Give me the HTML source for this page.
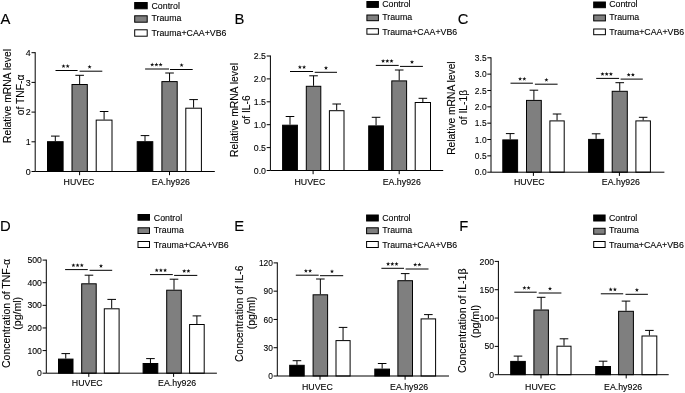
<!DOCTYPE html>
<html><head><meta charset="utf-8"><title>Figure</title>
<style>
html,body{margin:0;padding:0;background:#fff;}
body{width:685px;height:393px;position:relative;overflow:hidden;font-family:"Liberation Sans",sans-serif;}
svg text{font-family:"Liberation Sans",sans-serif;}
svg{filter:grayscale(1) blur(0.3px);}
svg text{stroke:#000;stroke-width:0.12px;}
</style></head><body>
<svg width="685" height="393" viewBox="0 0 685 393" style="position:absolute;left:0;top:0" font-family="Liberation Sans, sans-serif" fill="#000">
<g>
<text x="0.5" y="23.7" font-size="14.8">A</text>
<path d="M55.3 141.2V136.1M51 136.1H59.6" stroke="#000" stroke-width="1.0" fill="none"/>
<rect x="47.5" y="141.7" width="15.6" height="29.8" fill="#000" stroke="#000" stroke-width="1.0"/>
<path d="M79.65 84V75.3M75.35 75.3H83.95" stroke="#000" stroke-width="1.0" fill="none"/>
<rect x="72" y="84.5" width="15.3" height="87" fill="#7f7f7f" stroke="#000" stroke-width="1.0"/>
<path d="M104.1 119.6V111.5M99.8 111.5H108.4" stroke="#000" stroke-width="1.0" fill="none"/>
<rect x="96.2" y="120.1" width="15.8" height="51.4" fill="#fff" stroke="#000" stroke-width="1.0"/>
<path d="M79.6 171.5V175.2" stroke="#000" stroke-width="1.0"/>
<text transform="translate(79 185) scale(0.962 1)" font-size="9.15" text-anchor="middle">HUVEC</text>
<path d="M145 141.2V135.6M140.7 135.6H149.3" stroke="#000" stroke-width="1.0" fill="none"/>
<rect x="137.2" y="141.7" width="15.6" height="29.8" fill="#000" stroke="#000" stroke-width="1.0"/>
<path d="M169.55 81.1V73M165.25 73H173.85" stroke="#000" stroke-width="1.0" fill="none"/>
<rect x="161.9" y="81.6" width="15.3" height="89.9" fill="#7f7f7f" stroke="#000" stroke-width="1.0"/>
<path d="M193.6 107.7V99.6M189.3 99.6H197.9" stroke="#000" stroke-width="1.0" fill="none"/>
<rect x="185.8" y="108.2" width="15.6" height="63.3" fill="#fff" stroke="#000" stroke-width="1.0"/>
<path d="M169.5 171.5V175.2" stroke="#000" stroke-width="1.0"/>
<text transform="translate(170.85 185) scale(0.962 1)" font-size="9.15" text-anchor="middle">EA.hy926</text>
<path d="M35.2 52.2V171.5H214.8" stroke="#000" stroke-width="1.0" fill="none"/>
<path d="M31.5 171.5H35.2" stroke="#000" stroke-width="1.0"/>
<text transform="translate(30.8 174.6) scale(0.91 1)" font-size="9.8" text-anchor="end">0</text>
<path d="M31.5 141.8H35.2" stroke="#000" stroke-width="1.0"/>
<text transform="translate(30.8 144.9) scale(0.91 1)" font-size="9.8" text-anchor="end">1</text>
<path d="M31.5 112.1H35.2" stroke="#000" stroke-width="1.0"/>
<text transform="translate(30.8 115.2) scale(0.91 1)" font-size="9.8" text-anchor="end">2</text>
<path d="M31.5 82.4H35.2" stroke="#000" stroke-width="1.0"/>
<text transform="translate(30.8 85.5) scale(0.91 1)" font-size="9.8" text-anchor="end">3</text>
<path d="M31.5 52.7H35.2" stroke="#000" stroke-width="1.0"/>
<text transform="translate(30.8 55.8) scale(0.91 1)" font-size="9.8" text-anchor="end">4</text>
<path d="M55.5 70.5H77.6" stroke="#000" stroke-width="1.0"/>
<polygon points="63.5,64.05 64.03,65.47 65.54,65.54 64.36,66.48 64.76,67.94 63.5,67.1 62.24,67.94 62.64,66.48 61.46,65.54 62.97,65.47" fill="#111"/>
<polygon points="67.7,64.05 68.23,65.47 69.74,65.54 68.56,66.48 68.96,67.94 67.7,67.1 66.44,67.94 66.84,66.48 65.66,65.54 67.17,65.47" fill="#111"/>
<path d="M79.6 71.2H102.3" stroke="#000" stroke-width="1.0"/>
<polygon points="89.6,64.75 90.13,66.17 91.64,66.24 90.46,67.18 90.86,68.64 89.6,67.8 88.34,68.64 88.74,67.18 87.56,66.24 89.07,66.17" fill="#111"/>
<path d="M145.1 69H169" stroke="#000" stroke-width="1.0"/>
<polygon points="152.2,62.55 152.73,63.97 154.24,64.04 153.06,64.98 153.46,66.44 152.2,65.6 150.94,66.44 151.34,64.98 150.16,64.04 151.67,63.97" fill="#111"/>
<polygon points="156.4,62.55 156.93,63.97 158.44,64.04 157.26,64.98 157.66,66.44 156.4,65.6 155.14,66.44 155.54,64.98 154.36,64.04 155.87,63.97" fill="#111"/>
<polygon points="160.6,62.55 161.13,63.97 162.64,64.04 161.46,64.98 161.86,66.44 160.6,65.6 159.34,66.44 159.74,64.98 158.56,64.04 160.07,63.97" fill="#111"/>
<path d="M170 69.5H192.7" stroke="#000" stroke-width="1.0"/>
<polygon points="181.6,63.05 182.13,64.47 183.64,64.54 182.46,65.48 182.86,66.94 181.6,66.1 180.34,66.94 180.74,65.48 179.56,64.54 181.07,64.47" fill="#111"/>
<text transform="translate(11 96) rotate(-90)" font-size="10.3" text-anchor="middle">Relative mRNA level</text>
<text transform="translate(23.6 95) rotate(-90)" font-size="10.3" text-anchor="middle">of TNF-α</text>
<rect x="134.7" y="2.5" width="12.5" height="6.3" fill="#000" stroke="#000" stroke-width="1.0"/>
<text transform="translate(151.5 8.5) scale(0.962 1)" font-size="9.15">Control</text>
<rect x="134.7" y="15.8" width="12.5" height="6.4" fill="#7f7f7f" stroke="#000" stroke-width="1.0"/>
<text transform="translate(151.5 21.4) scale(0.962 1)" font-size="9.15">Trauma</text>
<rect x="134.7" y="29.8" width="12.5" height="6.4" fill="#fff" stroke="#000" stroke-width="1.0"/>
<text transform="translate(151.5 36.3) scale(0.962 1)" font-size="9.15">Trauma+CAA+VB6</text>
</g>
<g>
<text x="234.5" y="23.7" font-size="14.8">B</text>
<path d="M290 124.7V116.5M285.7 116.5H294.3" stroke="#000" stroke-width="1.0" fill="none"/>
<rect x="282.6" y="125.2" width="14.8" height="45.3" fill="#000" stroke="#000" stroke-width="1.0"/>
<path d="M313.55 85.8V75.8M309.25 75.8H317.85" stroke="#000" stroke-width="1.0" fill="none"/>
<rect x="306.3" y="86.3" width="14.5" height="84.2" fill="#7f7f7f" stroke="#000" stroke-width="1.0"/>
<path d="M336.7 110.2V104M332.4 104H341" stroke="#000" stroke-width="1.0" fill="none"/>
<rect x="329.4" y="110.7" width="14.6" height="59.8" fill="#fff" stroke="#000" stroke-width="1.0"/>
<path d="M313.1 170.5V174.2" stroke="#000" stroke-width="1.0"/>
<text transform="translate(309.85 185) scale(0.962 1)" font-size="9.15" text-anchor="middle">HUVEC</text>
<path d="M376.05 125.4V117.3M371.75 117.3H380.35" stroke="#000" stroke-width="1.0" fill="none"/>
<rect x="368.7" y="125.9" width="14.7" height="44.6" fill="#000" stroke="#000" stroke-width="1.0"/>
<path d="M399.2 80.4V70M394.9 70H403.5" stroke="#000" stroke-width="1.0" fill="none"/>
<rect x="391.8" y="80.9" width="14.8" height="89.6" fill="#7f7f7f" stroke="#000" stroke-width="1.0"/>
<path d="M422.85 102V98.3M418.55 98.3H427.15" stroke="#000" stroke-width="1.0" fill="none"/>
<rect x="415.2" y="102.5" width="15.3" height="68" fill="#fff" stroke="#000" stroke-width="1.0"/>
<path d="M399.2 170.5V174.2" stroke="#000" stroke-width="1.0"/>
<text transform="translate(401.75 185) scale(0.962 1)" font-size="9.15" text-anchor="middle">EA.hy926</text>
<path d="M270.4 55.5V170.5H443.2" stroke="#000" stroke-width="1.0" fill="none"/>
<path d="M266.7 170.5H270.4" stroke="#000" stroke-width="1.0"/>
<text transform="translate(266 173.6) scale(0.957 1)" font-size="9.2" text-anchor="end">0.0</text>
<path d="M266.7 147.6H270.4" stroke="#000" stroke-width="1.0"/>
<text transform="translate(266 150.7) scale(0.957 1)" font-size="9.2" text-anchor="end">0.5</text>
<path d="M266.7 124.7H270.4" stroke="#000" stroke-width="1.0"/>
<text transform="translate(266 127.8) scale(0.957 1)" font-size="9.2" text-anchor="end">1.0</text>
<path d="M266.7 101.8H270.4" stroke="#000" stroke-width="1.0"/>
<text transform="translate(266 104.9) scale(0.957 1)" font-size="9.2" text-anchor="end">1.5</text>
<path d="M266.7 78.9H270.4" stroke="#000" stroke-width="1.0"/>
<text transform="translate(266 82) scale(0.957 1)" font-size="9.2" text-anchor="end">2.0</text>
<path d="M266.7 56H270.4" stroke="#000" stroke-width="1.0"/>
<text transform="translate(266 59.1) scale(0.957 1)" font-size="9.2" text-anchor="end">2.5</text>
<path d="M290 71.5H313.1" stroke="#000" stroke-width="1.0"/>
<polygon points="299.9,65.05 300.43,66.47 301.94,66.54 300.76,67.48 301.16,68.94 299.9,68.1 298.64,68.94 299.04,67.48 297.86,66.54 299.37,66.47" fill="#111"/>
<polygon points="304.1,65.05 304.63,66.47 306.14,66.54 304.96,67.48 305.36,68.94 304.1,68.1 302.84,68.94 303.24,67.48 302.06,66.54 303.57,66.47" fill="#111"/>
<path d="M314.7 72.3H337" stroke="#000" stroke-width="1.0"/>
<polygon points="326,65.85 326.53,67.27 328.04,67.34 326.86,68.28 327.26,69.74 326,68.9 324.74,69.74 325.14,68.28 323.96,67.34 325.47,67.27" fill="#111"/>
<path d="M375.8 65.4H398.7" stroke="#000" stroke-width="1.0"/>
<polygon points="383.1,58.95 383.63,60.37 385.14,60.44 383.96,61.38 384.36,62.84 383.1,62 381.84,62.84 382.24,61.38 381.06,60.44 382.57,60.37" fill="#111"/>
<polygon points="387.3,58.95 387.83,60.37 389.34,60.44 388.16,61.38 388.56,62.84 387.3,62 386.04,62.84 386.44,61.38 385.26,60.44 386.77,60.37" fill="#111"/>
<polygon points="391.5,58.95 392.03,60.37 393.54,60.44 392.36,61.38 392.76,62.84 391.5,62 390.24,62.84 390.64,61.38 389.46,60.44 390.97,60.37" fill="#111"/>
<path d="M400 66.4H422.9" stroke="#000" stroke-width="1.0"/>
<polygon points="412,59.95 412.53,61.37 414.04,61.44 412.86,62.38 413.26,63.84 412,63 410.74,63.84 411.14,62.38 409.96,61.44 411.47,61.37" fill="#111"/>
<text transform="translate(238.3 110) rotate(-90)" font-size="10.3" text-anchor="middle">Relative mRNA level</text>
<text transform="translate(250.2 109.9) rotate(-90)" font-size="10.2" text-anchor="middle">of IL-6</text>
<rect x="366.9" y="1.5" width="11.5" height="5.9" fill="#000" stroke="#000" stroke-width="1.0"/>
<text transform="translate(382.2 7.1) scale(0.962 1)" font-size="9.15">Control</text>
<rect x="366.9" y="15" width="11.5" height="5.7" fill="#7f7f7f" stroke="#000" stroke-width="1.0"/>
<text transform="translate(382.2 20.2) scale(0.962 1)" font-size="9.15">Trauma</text>
<rect x="366.9" y="28.7" width="11.5" height="5.5" fill="#fff" stroke="#000" stroke-width="1.0"/>
<text transform="translate(382.2 34.8) scale(0.962 1)" font-size="9.15">Trauma+CAA+VB6</text>
</g>
<g>
<text x="457.8" y="23.6" font-size="14.8">C</text>
<path d="M510.2 139.4V133.6M505.9 133.6H514.5" stroke="#000" stroke-width="1.0" fill="none"/>
<rect x="502.8" y="139.9" width="14.8" height="32.3" fill="#000" stroke="#000" stroke-width="1.0"/>
<path d="M533.9 99.9V90.2M529.6 90.2H538.2" stroke="#000" stroke-width="1.0" fill="none"/>
<rect x="526.5" y="100.4" width="14.8" height="71.8" fill="#7f7f7f" stroke="#000" stroke-width="1.0"/>
<path d="M557.05 120.4V114M552.75 114H561.35" stroke="#000" stroke-width="1.0" fill="none"/>
<rect x="549.9" y="120.9" width="14.3" height="51.3" fill="#fff" stroke="#000" stroke-width="1.0"/>
<path d="M533.4 172.2V175.9" stroke="#000" stroke-width="1.0"/>
<text transform="translate(529.3 185) scale(0.962 1)" font-size="9.15" text-anchor="middle">HUVEC</text>
<path d="M596.1 138.9V133.8M591.8 133.8H600.4" stroke="#000" stroke-width="1.0" fill="none"/>
<rect x="588.6" y="139.4" width="15" height="32.8" fill="#000" stroke="#000" stroke-width="1.0"/>
<path d="M619.75 90.8V82.7M615.45 82.7H624.05" stroke="#000" stroke-width="1.0" fill="none"/>
<rect x="612.2" y="91.3" width="15.1" height="80.9" fill="#7f7f7f" stroke="#000" stroke-width="1.0"/>
<path d="M643.15 120.4V117.3M638.85 117.3H647.45" stroke="#000" stroke-width="1.0" fill="none"/>
<rect x="635.9" y="120.9" width="14.5" height="51.3" fill="#fff" stroke="#000" stroke-width="1.0"/>
<path d="M619.4 172.2V175.9" stroke="#000" stroke-width="1.0"/>
<text transform="translate(620.9 185) scale(0.962 1)" font-size="9.15" text-anchor="middle">EA.hy926</text>
<path d="M491 57.3V172.2H664.4" stroke="#000" stroke-width="1.0" fill="none"/>
<path d="M487.3 172.2H491" stroke="#000" stroke-width="1.0"/>
<text transform="translate(486.6 175.3) scale(0.885 1)" font-size="9.55" text-anchor="end">0.0</text>
<path d="M487.3 155.86H491" stroke="#000" stroke-width="1.0"/>
<text transform="translate(486.6 158.96) scale(0.885 1)" font-size="9.55" text-anchor="end">0.5</text>
<path d="M487.3 139.51H491" stroke="#000" stroke-width="1.0"/>
<text transform="translate(486.6 142.61) scale(0.885 1)" font-size="9.55" text-anchor="end">1.0</text>
<path d="M487.3 123.17H491" stroke="#000" stroke-width="1.0"/>
<text transform="translate(486.6 126.27) scale(0.885 1)" font-size="9.55" text-anchor="end">1.5</text>
<path d="M487.3 106.83H491" stroke="#000" stroke-width="1.0"/>
<text transform="translate(486.6 109.93) scale(0.885 1)" font-size="9.55" text-anchor="end">2.0</text>
<path d="M487.3 90.49H491" stroke="#000" stroke-width="1.0"/>
<text transform="translate(486.6 93.59) scale(0.885 1)" font-size="9.55" text-anchor="end">2.5</text>
<path d="M487.3 74.14H491" stroke="#000" stroke-width="1.0"/>
<text transform="translate(486.6 77.24) scale(0.885 1)" font-size="9.55" text-anchor="end">3.0</text>
<path d="M487.3 57.8H491" stroke="#000" stroke-width="1.0"/>
<text transform="translate(486.6 60.9) scale(0.885 1)" font-size="9.55" text-anchor="end">3.5</text>
<path d="M510.5 83.2H532.9" stroke="#000" stroke-width="1.0"/>
<polygon points="520.1,76.75 520.63,78.17 522.14,78.24 520.96,79.18 521.36,80.64 520.1,79.8 518.84,80.64 519.24,79.18 518.06,78.24 519.57,78.17" fill="#111"/>
<polygon points="524.3,76.75 524.83,78.17 526.34,78.24 525.16,79.18 525.56,80.64 524.3,79.8 523.04,80.64 523.44,79.18 522.26,78.24 523.77,78.17" fill="#111"/>
<path d="M534.9 84.2H557.6" stroke="#000" stroke-width="1.0"/>
<polygon points="546.4,77.75 546.93,79.17 548.44,79.24 547.26,80.18 547.66,81.64 546.4,80.8 545.14,81.64 545.54,80.18 544.36,79.24 545.87,79.17" fill="#111"/>
<path d="M596.2 78.4H619.1" stroke="#000" stroke-width="1.0"/>
<polygon points="602.5,71.95 603.03,73.37 604.54,73.44 603.36,74.38 603.76,75.84 602.5,75 601.24,75.84 601.64,74.38 600.46,73.44 601.97,73.37" fill="#111"/>
<polygon points="606.7,71.95 607.23,73.37 608.74,73.44 607.56,74.38 607.96,75.84 606.7,75 605.44,75.84 605.84,74.38 604.66,73.44 606.17,73.37" fill="#111"/>
<polygon points="610.9,71.95 611.43,73.37 612.94,73.44 611.76,74.38 612.16,75.84 610.9,75 609.64,75.84 610.04,74.38 608.86,73.44 610.37,73.37" fill="#111"/>
<path d="M620.6 79.1H642.8" stroke="#000" stroke-width="1.0"/>
<polygon points="628.7,72.65 629.23,74.07 630.74,74.14 629.56,75.08 629.96,76.54 628.7,75.7 627.44,76.54 627.84,75.08 626.66,74.14 628.17,74.07" fill="#111"/>
<polygon points="632.9,72.65 633.43,74.07 634.94,74.14 633.76,75.08 634.16,76.54 632.9,75.7 631.64,76.54 632.04,75.08 630.86,74.14 632.37,74.07" fill="#111"/>
<text transform="translate(454.6 108.1) rotate(-90)" font-size="10.25" text-anchor="middle">Relative mRNA level</text>
<text transform="translate(467 107.4) rotate(-90)" font-size="10.25" text-anchor="middle">of IL-1β</text>
<rect x="593.7" y="2" width="11.7" height="5.7" fill="#000" stroke="#000" stroke-width="1.0"/>
<text transform="translate(609.2 7.3) scale(0.962 1)" font-size="9.15">Control</text>
<rect x="593.7" y="15" width="11.7" height="5.9" fill="#7f7f7f" stroke="#000" stroke-width="1.0"/>
<text transform="translate(609.2 20.4) scale(0.962 1)" font-size="9.15">Trauma</text>
<rect x="593.7" y="29" width="11.7" height="5.7" fill="#fff" stroke="#000" stroke-width="1.0"/>
<text transform="translate(609.2 34.9) scale(0.962 1)" font-size="9.15">Trauma+CAA+VB6</text>
</g>
<g>
<text x="-0.1" y="230.7" font-size="14.8">D</text>
<path d="M65.75 358.6V353.6M61.45 353.6H70.05" stroke="#000" stroke-width="1.0" fill="none"/>
<rect x="58.5" y="359.1" width="14.5" height="14.1" fill="#000" stroke="#000" stroke-width="1.0"/>
<path d="M88.95 283.3V275.2M84.65 275.2H93.25" stroke="#000" stroke-width="1.0" fill="none"/>
<rect x="81.7" y="283.8" width="14.5" height="89.4" fill="#7f7f7f" stroke="#000" stroke-width="1.0"/>
<path d="M111.7 308.3V299.4M107.4 299.4H116" stroke="#000" stroke-width="1.0" fill="none"/>
<rect x="104.3" y="308.8" width="14.8" height="64.4" fill="#fff" stroke="#000" stroke-width="1.0"/>
<path d="M88.8 373.2V376.9" stroke="#000" stroke-width="1.0"/>
<text transform="translate(87.25 386) scale(0.962 1)" font-size="9.15" text-anchor="middle">HUVEC</text>
<path d="M150.45 363V358.6M146.15 358.6H154.75" stroke="#000" stroke-width="1.0" fill="none"/>
<rect x="143.1" y="363.5" width="14.7" height="9.7" fill="#000" stroke="#000" stroke-width="1.0"/>
<path d="M174 289.7V279.2M169.7 279.2H178.3" stroke="#000" stroke-width="1.0" fill="none"/>
<rect x="166.7" y="290.2" width="14.6" height="83" fill="#7f7f7f" stroke="#000" stroke-width="1.0"/>
<path d="M196.9 324V315.9M192.6 315.9H201.2" stroke="#000" stroke-width="1.0" fill="none"/>
<rect x="189.6" y="324.5" width="14.6" height="48.7" fill="#fff" stroke="#000" stroke-width="1.0"/>
<path d="M173.6 373.2V376.9" stroke="#000" stroke-width="1.0"/>
<text transform="translate(177.15 386) scale(0.962 1)" font-size="9.15" text-anchor="middle">EA.hy926</text>
<path d="M46.3 259.6V373.2H216.9" stroke="#000" stroke-width="1.0" fill="none"/>
<path d="M42.6 373.2H46.3" stroke="#000" stroke-width="1.0"/>
<text transform="translate(41.9 376.3) scale(0.93 1)" font-size="9.3" text-anchor="end">0</text>
<path d="M42.6 350.58H46.3" stroke="#000" stroke-width="1.0"/>
<text transform="translate(41.9 353.68) scale(0.93 1)" font-size="9.3" text-anchor="end">100</text>
<path d="M42.6 327.96H46.3" stroke="#000" stroke-width="1.0"/>
<text transform="translate(41.9 331.06) scale(0.93 1)" font-size="9.3" text-anchor="end">200</text>
<path d="M42.6 305.34H46.3" stroke="#000" stroke-width="1.0"/>
<text transform="translate(41.9 308.44) scale(0.93 1)" font-size="9.3" text-anchor="end">300</text>
<path d="M42.6 282.72H46.3" stroke="#000" stroke-width="1.0"/>
<text transform="translate(41.9 285.82) scale(0.93 1)" font-size="9.3" text-anchor="end">400</text>
<path d="M42.6 260.1H46.3" stroke="#000" stroke-width="1.0"/>
<text transform="translate(41.9 263.2) scale(0.93 1)" font-size="9.3" text-anchor="end">500</text>
<path d="M65.1 269.6H87.8" stroke="#000" stroke-width="1.0"/>
<polygon points="73.4,263.15 73.93,264.57 75.44,264.64 74.26,265.58 74.66,267.04 73.4,266.2 72.14,267.04 72.54,265.58 71.36,264.64 72.87,264.57" fill="#111"/>
<polygon points="77.6,263.15 78.13,264.57 79.64,264.64 78.46,265.58 78.86,267.04 77.6,266.2 76.34,267.04 76.74,265.58 75.56,264.64 77.07,264.57" fill="#111"/>
<polygon points="81.8,263.15 82.33,264.57 83.84,264.64 82.66,265.58 83.06,267.04 81.8,266.2 80.54,267.04 80.94,265.58 79.76,264.64 81.27,264.57" fill="#111"/>
<path d="M89.6 270.3H112.2" stroke="#000" stroke-width="1.0"/>
<polygon points="101,263.85 101.53,265.27 103.04,265.34 101.86,266.28 102.26,267.74 101,266.9 99.74,267.74 100.14,266.28 98.96,265.34 100.47,265.27" fill="#111"/>
<path d="M150 274.6H172.8" stroke="#000" stroke-width="1.0"/>
<polygon points="156.7,268.15 157.23,269.57 158.74,269.64 157.56,270.58 157.96,272.04 156.7,271.2 155.44,272.04 155.84,270.58 154.66,269.64 156.17,269.57" fill="#111"/>
<polygon points="160.9,268.15 161.43,269.57 162.94,269.64 161.76,270.58 162.16,272.04 160.9,271.2 159.64,272.04 160.04,270.58 158.86,269.64 160.37,269.57" fill="#111"/>
<polygon points="165.1,268.15 165.63,269.57 167.14,269.64 165.96,270.58 166.36,272.04 165.1,271.2 163.84,272.04 164.24,270.58 163.06,269.64 164.57,269.57" fill="#111"/>
<path d="M174.1 275.4H197.3" stroke="#000" stroke-width="1.0"/>
<polygon points="184.2,268.95 184.73,270.37 186.24,270.44 185.06,271.38 185.46,272.84 184.2,272 182.94,272.84 183.34,271.38 182.16,270.44 183.67,270.37" fill="#111"/>
<polygon points="188.4,268.95 188.93,270.37 190.44,270.44 189.26,271.38 189.66,272.84 188.4,272 187.14,272.84 187.54,271.38 186.36,270.44 187.87,270.37" fill="#111"/>
<text transform="translate(9.7 313.4) rotate(-90)" font-size="10.45" text-anchor="middle">Concentration of TNF-α</text>
<text transform="translate(21.3 313.3) rotate(-90)" font-size="10.5" text-anchor="middle">(pg/ml)</text>
<rect x="138" y="214.5" width="11.5" height="5.7" fill="#000" stroke="#000" stroke-width="1.0"/>
<text transform="translate(153.8 220.8) scale(0.962 1)" font-size="9.15">Control</text>
<rect x="138" y="227.8" width="11.5" height="5.7" fill="#7f7f7f" stroke="#000" stroke-width="1.0"/>
<text transform="translate(153.8 232.9) scale(0.962 1)" font-size="9.15">Trauma</text>
<rect x="138" y="241.5" width="11.5" height="6" fill="#fff" stroke="#000" stroke-width="1.0"/>
<text transform="translate(153.8 247.7) scale(0.962 1)" font-size="9.15">Trauma+CAA+VB6</text>
</g>
<g>
<text x="234.3" y="230.9" font-size="14.8">E</text>
<path d="M296.95 364.8V360.7M292.65 360.7H301.25" stroke="#000" stroke-width="1.0" fill="none"/>
<rect x="289.7" y="365.3" width="14.5" height="10.7" fill="#000" stroke="#000" stroke-width="1.0"/>
<path d="M320.35 294.3V279M316.05 279H324.65" stroke="#000" stroke-width="1.0" fill="none"/>
<rect x="313.1" y="294.8" width="14.5" height="81.2" fill="#7f7f7f" stroke="#000" stroke-width="1.0"/>
<path d="M343.05 340.1V327.4M338.75 327.4H347.35" stroke="#000" stroke-width="1.0" fill="none"/>
<rect x="336" y="340.6" width="14.1" height="35.4" fill="#fff" stroke="#000" stroke-width="1.0"/>
<path d="M320 376V379.7" stroke="#000" stroke-width="1.0"/>
<text transform="translate(317.35 390) scale(0.962 1)" font-size="9.15" text-anchor="middle">HUVEC</text>
<path d="M382.15 368.6V363.5M377.85 363.5H386.45" stroke="#000" stroke-width="1.0" fill="none"/>
<rect x="374.8" y="369.1" width="14.7" height="6.9" fill="#000" stroke="#000" stroke-width="1.0"/>
<path d="M405.2 280.2V273.6M400.9 273.6H409.5" stroke="#000" stroke-width="1.0" fill="none"/>
<rect x="397.9" y="280.7" width="14.6" height="95.3" fill="#7f7f7f" stroke="#000" stroke-width="1.0"/>
<path d="M428.35 318.4V314.6M424.05 314.6H432.65" stroke="#000" stroke-width="1.0" fill="none"/>
<rect x="421.1" y="318.9" width="14.5" height="57.1" fill="#fff" stroke="#000" stroke-width="1.0"/>
<path d="M405.1 376V379.7" stroke="#000" stroke-width="1.0"/>
<text transform="translate(409.1 390) scale(0.962 1)" font-size="9.15" text-anchor="middle">EA.hy926</text>
<path d="M277.3 262.4V376H449" stroke="#000" stroke-width="1.0" fill="none"/>
<path d="M273.6 376H277.3" stroke="#000" stroke-width="1.0"/>
<text transform="translate(272.9 379.1) scale(0.865 1)" font-size="9.7" text-anchor="end">0</text>
<path d="M273.6 347.73H277.3" stroke="#000" stroke-width="1.0"/>
<text transform="translate(272.9 350.83) scale(0.865 1)" font-size="9.7" text-anchor="end">30</text>
<path d="M273.6 319.45H277.3" stroke="#000" stroke-width="1.0"/>
<text transform="translate(272.9 322.55) scale(0.865 1)" font-size="9.7" text-anchor="end">60</text>
<path d="M273.6 291.17H277.3" stroke="#000" stroke-width="1.0"/>
<text transform="translate(272.9 294.27) scale(0.865 1)" font-size="9.7" text-anchor="end">90</text>
<path d="M273.6 262.9H277.3" stroke="#000" stroke-width="1.0"/>
<text transform="translate(272.9 266) scale(0.865 1)" font-size="9.7" text-anchor="end">120</text>
<path d="M295.8 275.2H318.7" stroke="#000" stroke-width="1.0"/>
<polygon points="305.9,268.75 306.43,270.17 307.94,270.24 306.76,271.18 307.16,272.64 305.9,271.8 304.64,272.64 305.04,271.18 303.86,270.24 305.37,270.17" fill="#111"/>
<polygon points="310.1,268.75 310.63,270.17 312.14,270.24 310.96,271.18 311.36,272.64 310.1,271.8 308.84,272.64 309.24,271.18 308.06,270.24 309.57,270.17" fill="#111"/>
<path d="M320 275.7H343.2" stroke="#000" stroke-width="1.0"/>
<polygon points="332,269.25 332.53,270.67 334.04,270.74 332.86,271.68 333.26,273.14 332,272.3 330.74,273.14 331.14,271.68 329.96,270.74 331.47,270.67" fill="#111"/>
<path d="M381.4 268.3H404" stroke="#000" stroke-width="1.0"/>
<polygon points="388.1,261.85 388.63,263.27 390.14,263.34 388.96,264.28 389.36,265.74 388.1,264.9 386.84,265.74 387.24,264.28 386.06,263.34 387.57,263.27" fill="#111"/>
<polygon points="392.3,261.85 392.83,263.27 394.34,263.34 393.16,264.28 393.56,265.74 392.3,264.9 391.04,265.74 391.44,264.28 390.26,263.34 391.77,263.27" fill="#111"/>
<polygon points="396.5,261.85 397.03,263.27 398.54,263.34 397.36,264.28 397.76,265.74 396.5,264.9 395.24,265.74 395.64,264.28 394.46,263.34 395.97,263.27" fill="#111"/>
<path d="M405.6 269H428.5" stroke="#000" stroke-width="1.0"/>
<polygon points="415.2,262.55 415.73,263.97 417.24,264.04 416.06,264.98 416.46,266.44 415.2,265.6 413.94,266.44 414.34,264.98 413.16,264.04 414.67,263.97" fill="#111"/>
<polygon points="419.4,262.55 419.93,263.97 421.44,264.04 420.26,264.98 420.66,266.44 419.4,265.6 418.14,266.44 418.54,264.98 417.36,264.04 418.87,263.97" fill="#111"/>
<text transform="translate(243.3 313.8) rotate(-90)" font-size="10.35" text-anchor="middle">Concentration of IL-6</text>
<text transform="translate(255.4 312.9) rotate(-90)" font-size="10.5" text-anchor="middle">(pg/ml)</text>
<rect x="366.6" y="215" width="11.7" height="6" fill="#000" stroke="#000" stroke-width="1.0"/>
<text transform="translate(382.2 220.8) scale(0.962 1)" font-size="9.15">Control</text>
<rect x="366.6" y="227.8" width="11.7" height="5.9" fill="#7f7f7f" stroke="#000" stroke-width="1.0"/>
<text transform="translate(382.2 232.9) scale(0.962 1)" font-size="9.15">Trauma</text>
<rect x="366.6" y="241.5" width="11.7" height="6" fill="#fff" stroke="#000" stroke-width="1.0"/>
<text transform="translate(382.2 247.7) scale(0.962 1)" font-size="9.15">Trauma+CAA+VB6</text>
</g>
<g>
<text x="459.3" y="230.5" font-size="14.8">F</text>
<path d="M518 360.9V356.1M513.7 356.1H522.3" stroke="#000" stroke-width="1.0" fill="none"/>
<rect x="510.7" y="361.4" width="14.6" height="13.3" fill="#000" stroke="#000" stroke-width="1.0"/>
<path d="M541.15 309.5V297.3M536.85 297.3H545.45" stroke="#000" stroke-width="1.0" fill="none"/>
<rect x="533.9" y="310" width="14.5" height="64.7" fill="#7f7f7f" stroke="#000" stroke-width="1.0"/>
<path d="M564 345.7V338.8M559.7 338.8H568.3" stroke="#000" stroke-width="1.0" fill="none"/>
<rect x="557" y="346.2" width="14" height="28.5" fill="#fff" stroke="#000" stroke-width="1.0"/>
<path d="M541 374.7V378.4" stroke="#000" stroke-width="1.0"/>
<text transform="translate(540.5 389.8) scale(0.962 1)" font-size="9.15" text-anchor="middle">HUVEC</text>
<path d="M603.1 366V361.2M598.8 361.2H607.4" stroke="#000" stroke-width="1.0" fill="none"/>
<rect x="595.7" y="366.5" width="14.8" height="8.2" fill="#000" stroke="#000" stroke-width="1.0"/>
<path d="M626 310.8V301.1M621.7 301.1H630.3" stroke="#000" stroke-width="1.0" fill="none"/>
<rect x="618.6" y="311.3" width="14.8" height="63.4" fill="#7f7f7f" stroke="#000" stroke-width="1.0"/>
<path d="M649.4 335.5V330.4M645.1 330.4H653.7" stroke="#000" stroke-width="1.0" fill="none"/>
<rect x="642" y="336" width="14.8" height="38.7" fill="#fff" stroke="#000" stroke-width="1.0"/>
<path d="M626.2 374.7V378.4" stroke="#000" stroke-width="1.0"/>
<text transform="translate(623.1 389.8) scale(0.962 1)" font-size="9.15" text-anchor="middle">EA.hy926</text>
<path d="M498.4 260.9V374.7H668.7" stroke="#000" stroke-width="1.0" fill="none"/>
<path d="M494.7 374.7H498.4" stroke="#000" stroke-width="1.0"/>
<text transform="translate(494 377.8) scale(0.89 1)" font-size="9.7" text-anchor="end">0</text>
<path d="M494.7 346.38H498.4" stroke="#000" stroke-width="1.0"/>
<text transform="translate(494 349.48) scale(0.89 1)" font-size="9.7" text-anchor="end">50</text>
<path d="M494.7 318.05H498.4" stroke="#000" stroke-width="1.0"/>
<text transform="translate(494 321.15) scale(0.89 1)" font-size="9.7" text-anchor="end">100</text>
<path d="M494.7 289.73H498.4" stroke="#000" stroke-width="1.0"/>
<text transform="translate(494 292.83) scale(0.89 1)" font-size="9.7" text-anchor="end">150</text>
<path d="M494.7 261.4H498.4" stroke="#000" stroke-width="1.0"/>
<text transform="translate(494 264.5) scale(0.89 1)" font-size="9.7" text-anchor="end">200</text>
<path d="M514.3 292.2H536.7" stroke="#000" stroke-width="1.0"/>
<polygon points="524.4,285.75 524.93,287.17 526.44,287.24 525.26,288.18 525.66,289.64 524.4,288.8 523.14,289.64 523.54,288.18 522.36,287.24 523.87,287.17" fill="#111"/>
<polygon points="528.6,285.75 529.13,287.17 530.64,287.24 529.46,288.18 529.86,289.64 528.6,288.8 527.34,289.64 527.74,288.18 526.56,287.24 528.07,287.17" fill="#111"/>
<path d="M538.7 293H561.4" stroke="#000" stroke-width="1.0"/>
<polygon points="550,286.55 550.53,287.97 552.04,288.04 550.86,288.98 551.26,290.44 550,289.6 548.74,290.44 549.14,288.98 547.96,288.04 549.47,287.97" fill="#111"/>
<path d="M600.8 293.8H623.2" stroke="#000" stroke-width="1.0"/>
<polygon points="610.7,287.35 611.23,288.77 612.74,288.84 611.56,289.78 611.96,291.24 610.7,290.4 609.44,291.24 609.84,289.78 608.66,288.84 610.17,288.77" fill="#111"/>
<polygon points="614.9,287.35 615.43,288.77 616.94,288.84 615.76,289.78 616.16,291.24 614.9,290.4 613.64,291.24 614.04,289.78 612.86,288.84 614.37,288.77" fill="#111"/>
<path d="M625.5 294.3H647.9" stroke="#000" stroke-width="1.0"/>
<polygon points="636.9,287.85 637.43,289.27 638.94,289.34 637.76,290.28 638.16,291.74 636.9,290.9 635.64,291.74 636.04,290.28 634.86,289.34 636.37,289.27" fill="#111"/>
<text transform="translate(466 320.8) rotate(-90)" font-size="10.55" text-anchor="middle">Concentration of IL-1β</text>
<text transform="translate(478.6 321.4) rotate(-90)" font-size="10.6" text-anchor="middle">(pg/ml)</text>
<rect x="593.7" y="215" width="11.4" height="6" fill="#000" stroke="#000" stroke-width="1.0"/>
<text transform="translate(608.9 220.8) scale(0.962 1)" font-size="9.15">Control</text>
<rect x="593.7" y="228.3" width="11.4" height="5.9" fill="#7f7f7f" stroke="#000" stroke-width="1.0"/>
<text transform="translate(608.9 232.9) scale(0.962 1)" font-size="9.15">Trauma</text>
<rect x="593.7" y="241.5" width="11.4" height="6" fill="#fff" stroke="#000" stroke-width="1.0"/>
<text transform="translate(608.9 247.7) scale(0.962 1)" font-size="9.15">Trauma+CAA+VB6</text>
</g>
</svg>
</body></html>
